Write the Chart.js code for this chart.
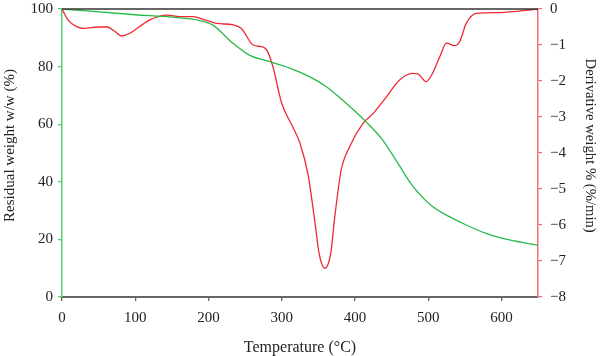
<!DOCTYPE html>
<html><head><meta charset="utf-8">
<script src="https://cdn.jsdelivr.net/npm/chart.js@4"></script>
<style>html,body{margin:0;padding:0;background:#fff}#wrap{width:600px;height:356px}</style>
</head><body><div id="wrap"><canvas id="c"></canvas></div>
<script>
const tgTemp = [0,100,150,188,206,233,256,284,311,338,361,383,415,438,461,479,506,529,552,579,611,650];
const tgWeight = [100,98,97.2,96,94.4,88.2,84,81.7,79.5,76.5,73,68.4,60.9,54.5,45.5,38.5,31.4,27.9,25,22.1,19.8,18];
const dtgTemp = [0,8,20,30,50,62,72,81,92,105,120,143,161,179,195,211,234,245,261,275,281,288,300,315,325,336,345,351,359,367,372,381,393,411,425,443,461,479,486,497,506,516,525,536,543,552,566,597,650];
const dtgRate = [0,-0.3,-0.49,-0.54,-0.5,-0.5,-0.62,-0.75,-0.68,-0.5,-0.3,-0.17,-0.21,-0.21,-0.3,-0.4,-0.44,-0.54,-1.0,-1.06,-1.19,-1.6,-2.62,-3.27,-3.73,-4.6,-5.86,-6.78,-7.2,-6.78,-5.86,-4.5,-3.82,-3.18,-2.9,-2.44,-1.97,-1.79,-1.8,-2.02,-1.79,-1.32,-0.95,-1.02,-0.91,-0.4,-0.12,-0.1,0];
const xTicks = [0,100,200,300,400,500,600];

const serif = "'Liberation Serif','DejaVu Serif',serif";
const topBorder = {
  id:'topBorder',
  afterDraw(chart){
    const {ctx, chartArea:a} = chart;
    ctx.save();
    ctx.strokeStyle = '#333';
    ctx.lineWidth = 1.5;
    ctx.beginPath();
    ctx.moveTo(a.left, a.top);
    ctx.lineTo(a.right, a.top);
    ctx.stroke();
    ctx.restore();
  }
};
function fixY(s){ s.width = 62; s.paddingTop = 0; s.paddingBottom = 0; }
new Chart(document.getElementById('c'), {
  type:'line',
  data:{datasets:[
    {data: tgTemp.map((t,i)=>({x:t,y:tgWeight[i]})), yAxisID:'y', borderColor:'rgb(40,185,70)', borderWidth:1.3, pointRadius:0, cubicInterpolationMode:'monotone', fill:false},
    {data: dtgTemp.map((t,i)=>({x:t,y:dtgRate[i]})), yAxisID:'y2', borderColor:'rgb(240,40,50)', borderWidth:1.3, pointRadius:0, cubicInterpolationMode:'monotone', fill:false}
  ]},
  options:{
    responsive:true, maintainAspectRatio:false, animation:false,
    layout:{padding:{top:9,left:0,right:0,bottom:0}},
    plugins:{legend:{display:false}, tooltip:{enabled:false}},
    scales:{
      x:{type:'linear', min:0, max:650,
        afterBuildTicks(s){ s.ticks = xTicks.map(v=>({value:v})); },
        afterFit(s){ s.height = 59; s.paddingLeft = 0; s.paddingRight = 0; },
        grid:{display:true, drawOnChartArea:false, drawTicks:true, tickLength:4, color:'#666', lineWidth:1.3},
        border:{display:true, color:'#666', width:2},
        ticks:{color:'#222', font:{family:serif, size:15}, padding:8, maxRotation:0},
        title:{display:true, text:'Temperature (°C)', color:'#222', font:{family:serif, size:16}, padding:{top:0,bottom:-1}}
      },
      y:{type:'linear', position:'left', min:0, max:100,
        ticks:{stepSize:20, color:'#222', font:{family:serif, size:15}, padding:5},
        afterFit: fixY,
        grid:{display:true, drawOnChartArea:false, drawTicks:true, tickLength:4, color:'rgb(80,210,110)', lineWidth:1.3},
        border:{display:true, color:'rgb(80,210,110)', width:1.5},
        title:{display:true, text:'    Residual weight w/w (%)', color:'#222', font:{family:serif, size:15}, padding:{top:1,bottom:0}}
      },
      y2:{type:'linear', position:'right', min:-8, max:0,
        ticks:{stepSize:1, color:'#222', font:{family:serif, size:15}, padding:8,
          callback:v=>String(v).replace('-','\u2212')},
        afterFit: fixY,
        grid:{display:true, drawOnChartArea:false, drawTicks:true, tickLength:4, color:'rgb(240,110,120)', lineWidth:1.3},
        border:{display:true, color:'rgb(240,110,120)', width:1.5},
        title:{display:true, text:'Derivative weight % (%/min)    ', color:'#222', font:{family:serif, size:14.7}, padding:{top:1,bottom:0}}
      }
    }
  },
  plugins:[topBorder]
});
</script></body></html>
